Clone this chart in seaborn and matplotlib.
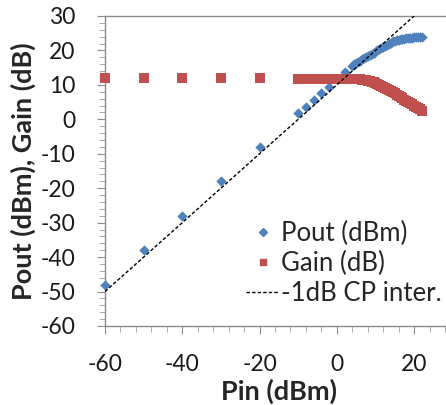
import matplotlib
matplotlib.use("Agg")
import matplotlib.pyplot as plt
import seaborn as sns
import pandas as pd
from matplotlib.ticker import MultipleLocator
from matplotlib.lines import Line2D

# ---- data ----
pin = [-60, -50, -40, -30, -20, -10, -8, -6, -4, -2, 0, 2, 4,
       4.5, 5, 5.5, 6, 6.5, 7, 7.5, 8, 8.5, 9, 9.5, 10, 10.5, 11, 11.5,
       12, 12.5, 13, 13.5, 14, 14.5, 15, 15.5, 16, 16.5, 17, 17.5, 18,
       18.5, 19, 19.5, 20, 20.5, 21, 21.5, 22]
pout = [-48, -38, -28, -18, -8, 1.7, 3.7, 5.6, 7.6, 9.5, 11.7, 13.8, 15.6,
        16.0, 16.3, 16.7, 17.0, 17.4, 17.7, 18.0, 18.3, 18.6, 18.9, 19.3,
        19.6, 20.0, 20.3, 20.7, 21.0, 21.4, 21.7, 22.0, 22.3, 22.6, 22.8,
        23.0, 23.1, 23.2, 23.3, 23.4, 23.5, 23.6, 23.7, 23.75, 23.8, 23.85,
        23.9, 23.95, 24.0]
gain = [12.0, 12.0, 12.0, 12.0, 12.0, 11.8, 11.8, 11.8, 11.8, 11.8, 11.8, 11.8, 11.8,
        11.75, 11.7, 11.65, 11.6, 11.5, 11.4, 11.3, 11.2, 11.05, 10.9, 10.7,
        10.5, 10.25, 10.0, 9.7, 9.4, 9.1, 8.8, 8.5, 8.2, 7.85, 7.5, 7.15,
        6.8, 6.45, 6.1, 5.75, 5.4, 5.05, 4.7, 4.35, 4.0, 3.65, 3.3, 2.9, 2.4]
cp_pin = [-60, 30]
cp_line = [-50, 40]

xticks = [-60, -40, -20, 0, 20]
yticks = [-60, -50, -40, -30, -20, -10, 0, 10, 20, 30]

df = pd.DataFrame({"Pin": pin, "Pout": pout, "Gain": gain})
df_cp = pd.DataFrame({"Pin": cp_pin, "CP": cp_line})

blue = "#4F81BD"
red = "#C0504D"

sns.set_style("white")
plt.rcParams["font.family"] = ["Lato", "DejaVu Sans"]
plt.rcParams["axes.unicode_minus"] = False

fig = plt.figure(figsize=(4.46, 4.05), dpi=100)
ax = fig.add_axes([105 / 446, 79 / 405, (452.7 - 105) / 446, 310 / 405])

sns.scatterplot(data=df, x="Pin", y="Pout", marker="D", s=28, color=blue,
                linewidth=0, ax=ax, zorder=3, clip_on=False)
sns.scatterplot(data=df, x="Pin", y="Gain", marker="s", s=42, color=red,
                linewidth=0, ax=ax, zorder=4, clip_on=False)
sns.lineplot(data=df_cp, x="Pin", y="CP", color="black", linestyle=(0, (2.5, 1.5)),
             linewidth=1.0, ax=ax, zorder=5)

ax.set_xlim(-60, 30)
ax.set_ylim(-60, 30)
ax.set_xticks(xticks)
ax.set_yticks(yticks)
ax.xaxis.set_minor_locator(MultipleLocator(4))
ax.yaxis.set_minor_locator(MultipleLocator(2))

for sp in ax.spines.values():
    sp.set_color("#8C8C8C")
    sp.set_linewidth(1.0)

ax.tick_params(axis="both", which="major", direction="out", length=5.5, width=0.8,
               color="#8C8C8C", labelsize=16.5, labelcolor="#1a1a1a")
ax.tick_params(axis="both", which="minor", direction="out", length=4.5, width=0.6,
               color="#A0A0A0")
ax.tick_params(axis="x", which="major", pad=15)
ax.tick_params(axis="y", which="major", pad=16)
ax.tick_params(left=True, bottom=True, which="both")

ax.set_xlabel("Pin (dBm)", fontsize=19.5, fontweight="bold", labelpad=2)
ax.set_ylabel("Pout (dBm), Gain (dB)", fontsize=19.5, fontweight="bold", labelpad=3)

handles = [
    Line2D([], [], marker="D", color=blue, linestyle="none", markersize=4.5),
    Line2D([], [], marker="s", color=red, linestyle="none", markersize=5),
    Line2D([], [], color="black", linestyle=(0, (2.5, 1.5)), linewidth=1.0),
]
labels = ["Pout (dBm)", "Gain (dB)", "-1dB CP inter."]
ax.legend(handles, labels, loc="upper left", bbox_to_anchor=(246 / 446, 1 - 221 / 405),
          bbox_transform=fig.transFigure, frameon=False, fontsize=18.5,
          handlelength=1.3, handletextpad=0.05, labelspacing=0.2, borderpad=0,
          borderaxespad=0)

fig.savefig("out.png", dpi=100)
